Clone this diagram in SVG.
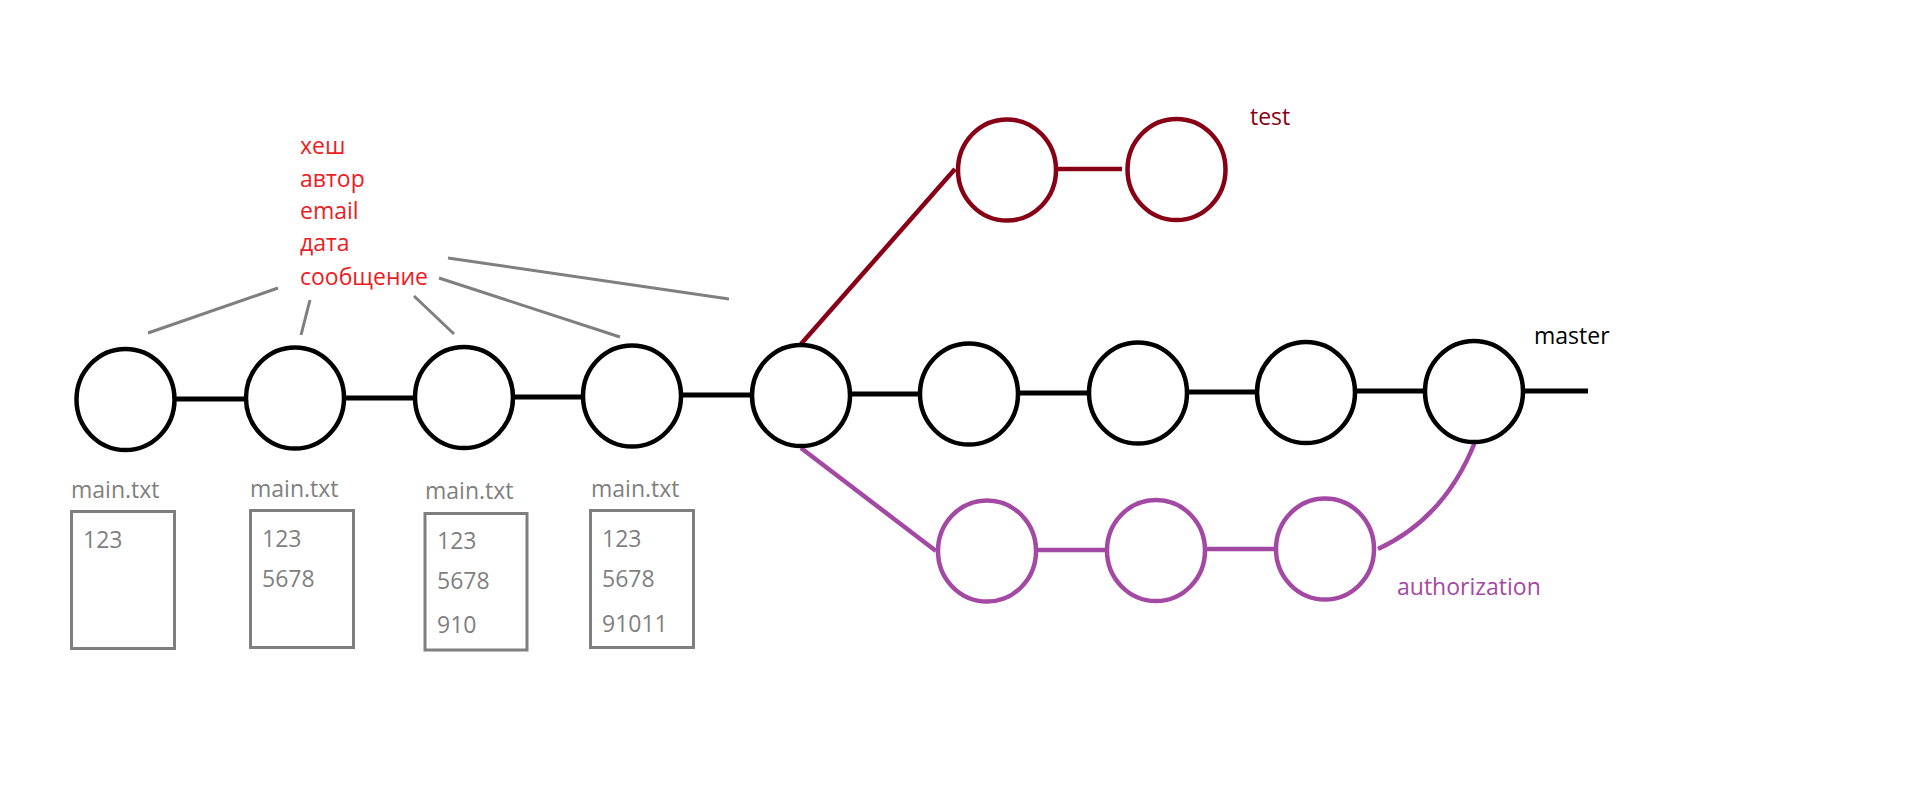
<svg xmlns="http://www.w3.org/2000/svg" width="1914" height="807" viewBox="0 0 1914 807">
  <style>
    text { font-family: "Open Sans", "Noto Sans", "Liberation Sans", sans-serif; font-size: 23px; }
    .commit { fill: none; stroke: #000000; stroke-width: 4.5; }
    .test { fill: none; stroke: #880015; stroke-width: 4.5; }
    .auth { fill: none; stroke: #A349A4; stroke-width: 4.5; }
    .edge { fill: none; stroke: #000000; stroke-width: 5; }
    .edge-test { fill: none; stroke: #880015; stroke-width: 4.5; }
    .edge-auth { fill: none; stroke: #A349A4; stroke-width: 4.5; }
    .pointer { fill: none; stroke: #7F7F7F; stroke-width: 3; }
    .file { fill: none; stroke: #7F7F7F; stroke-width: 3; }
    .gray { fill: #7F7F7F; }
    .red { fill: #ED1C24; }
    .lbl-test { fill: #880015; }
    .lbl-auth { fill: #A349A4; }
    .lbl-master { fill: #000000; }
  </style>

  <!-- connectors -->
  <g id="connectors">
    <!-- master line -->
    <line class="edge" x1="176" y1="399" x2="244" y2="399"/>
    <line class="edge" x1="346" y1="398" x2="413" y2="398"/>
    <line class="edge" x1="515" y1="397" x2="581" y2="397"/>
    <line class="edge" x1="683" y1="395" x2="750" y2="395"/>
    <line class="edge" x1="852" y1="394" x2="918" y2="394"/>
    <line class="edge" x1="1020" y1="393" x2="1087" y2="393"/>
    <line class="edge" x1="1189" y1="392" x2="1255" y2="392"/>
    <line class="edge" x1="1357" y1="391" x2="1423" y2="391"/>
    <line class="edge" x1="1525" y1="391" x2="1588" y2="391"/>
    <!-- test branch -->
    <line class="edge-test" x1="801" y1="344" x2="955" y2="169"/>
    <line class="edge-test" x1="1058" y1="169" x2="1122" y2="169"/>
    <!-- authorization branch -->
    <line class="edge-auth" x1="801" y1="448" x2="936" y2="551"/>
    <line class="edge-auth" x1="1038" y1="550" x2="1105" y2="550"/>
    <line class="edge-auth" x1="1207" y1="549" x2="1274" y2="549"/>
    <path class="edge-auth" d="M1378 549 Q1445 518 1475 442"/>
    <!-- commit metadata pointers -->
    <line class="pointer" x1="278" y1="288" x2="148" y2="333"/>
    <line class="pointer" x1="310" y1="300" x2="301" y2="335"/>
    <line class="pointer" x1="414" y1="296" x2="454" y2="334"/>
    <line class="pointer" x1="439" y1="278" x2="620" y2="337"/>
    <line class="pointer" x1="448" y1="258" x2="729" y2="299"/>
  </g>

  <!-- commit metadata -->
  <g id="commit-info">
    <text class="red" x="300" y="154">хеш</text>
    <text class="red" x="300" y="187">автор</text>
    <text class="red" x="300" y="219">email</text>
    <text class="red" x="300" y="251">дата</text>
    <text class="red" x="300" y="285">сообщение</text>
  </g>

  <!-- master commits -->
  <g id="c1"><ellipse class="commit" cx="125.5" cy="399.5" rx="49" ry="50.5"/></g>
  <g id="c2"><ellipse class="commit" cx="295" cy="398" rx="49" ry="50.5"/></g>
  <g id="c3"><ellipse class="commit" cx="464" cy="397.5" rx="49" ry="50.5"/></g>
  <g id="c4"><ellipse class="commit" cx="632" cy="396" rx="49" ry="50.5"/></g>
  <g id="c5"><ellipse class="commit" cx="801" cy="395.5" rx="49" ry="50.5"/></g>
  <g id="c6"><ellipse class="commit" cx="969" cy="394" rx="49" ry="50.5"/></g>
  <g id="c7"><ellipse class="commit" cx="1138" cy="393" rx="49" ry="50.5"/></g>
  <g id="c8"><ellipse class="commit" cx="1306" cy="392.5" rx="49" ry="50.5"/></g>
  <g id="c9"><ellipse class="commit" cx="1474" cy="391.5" rx="49" ry="50.5"/></g>
  <g id="master-label"><text class="lbl-master" x="1534" y="344">master</text></g>

  <!-- test branch commits -->
  <g id="t1"><ellipse class="test" cx="1007" cy="170" rx="49" ry="50.5"/></g>
  <g id="t2"><ellipse class="test" cx="1176.5" cy="169.5" rx="49" ry="50.5"/></g>
  <g id="test-label"><text class="lbl-test" x="1250" y="125">test</text></g>

  <!-- authorization branch commits -->
  <g id="a1"><ellipse class="auth" cx="987" cy="551" rx="49" ry="50.5"/></g>
  <g id="a2"><ellipse class="auth" cx="1156" cy="550.5" rx="49" ry="50.5"/></g>
  <g id="a3"><ellipse class="auth" cx="1325" cy="549" rx="49" ry="50.5"/></g>
  <g id="auth-label"><text class="lbl-auth" x="1397" y="595">authorization</text></g>

  <!-- file snapshots -->
  <g id="file1">
    <text class="gray" x="71" y="498">main.txt</text>
    <rect class="file" x="71.5" y="511.5" width="103" height="137"/>
    <text class="gray" x="83" y="548">123</text>
  </g>
  <g id="file2">
    <text class="gray" x="250" y="497">main.txt</text>
    <rect class="file" x="250.5" y="510.5" width="103" height="137"/>
    <text class="gray" x="262" y="547">123</text>
    <text class="gray" x="262" y="587">5678</text>
  </g>
  <g id="file3">
    <text class="gray" x="425" y="499">main.txt</text>
    <rect class="file" x="425" y="513.5" width="102" height="136.5"/>
    <text class="gray" x="437" y="549">123</text>
    <text class="gray" x="437" y="589">5678</text>
    <text class="gray" x="437" y="633">910</text>
  </g>
  <g id="file4">
    <text class="gray" x="591" y="497">main.txt</text>
    <rect class="file" x="590.5" y="510.5" width="103" height="137"/>
    <text class="gray" x="602" y="547">123</text>
    <text class="gray" x="602" y="587">5678</text>
    <text class="gray" x="602" y="632">91011</text>
  </g>
</svg>
